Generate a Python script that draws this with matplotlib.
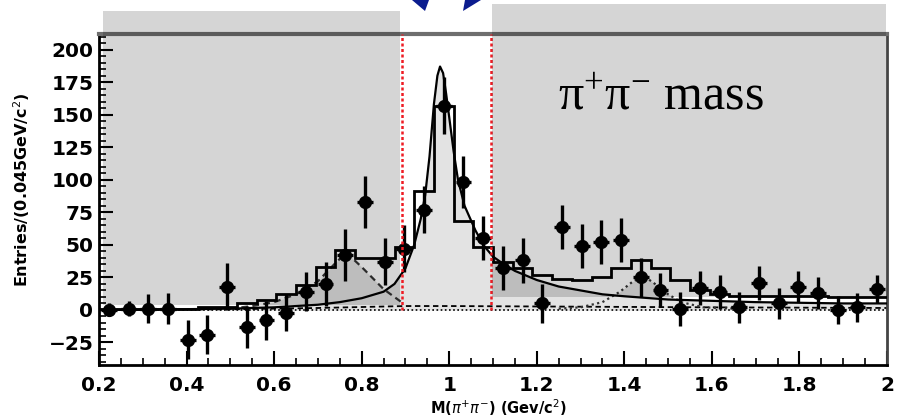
import numpy as np
import matplotlib
matplotlib.use("Agg")
import matplotlib.pyplot as plt
from matplotlib.patches import Rectangle, Polygon
from matplotlib.ticker import MultipleLocator

# ---------------- data ----------------
bin_edges = np.round(np.arange(0.2, 2.0001, 0.045), 4)
bin_centers = (bin_edges[:-1] + bin_edges[1:]) / 2

data_y = [0, 1, 1, 1, -23, -19, 18, -13, -8, -2,
          14, 20, 42, 83, 37, 47, 77, 157, 98, 55,
          32, 38, 5, 64, 49, 52, 54, 25, 15, 1,
          17, 14, 2, 21, 5, 18, 13, 0, 2, 16]
data_err = [5, 6, 11, 12, 15, 15, 18, 16, 15, 14,
            15, 17, 20, 20, 18, 18, 18, 22, 20, 17,
            17, 17, 15, 17, 17, 17, 17, 15, 13, 13,
            13, 13, 12, 13, 12, 12, 12, 11, 11, 11]

hist_y = [1, 1, 1, 1, 1, 2, 2, 5, 8, 12,
          19, 33, 46, 40, 40, 48, 91, 157, 68, 48,
          37, 32, 27, 24, 23, 25, 32, 38, 32, 23,
          15, 12, 11, 11, 11, 11, 11, 10, 10, 10]

fit_x = [0.2, 0.3, 0.4, 0.5, 0.6, 0.7, 0.75, 0.8, 0.85, 0.875, 0.9, 0.92, 0.935,
         0.945, 0.955, 0.965, 0.973, 0.979, 0.986, 0.993, 1.0, 1.01, 1.02, 1.035,
         1.06, 1.08, 1.1, 1.125, 1.15, 1.2, 1.25, 1.3, 1.35, 1.4, 1.5, 1.6, 1.7,
         1.8, 1.9, 2.0]
fit_y = [0, 0.3, 0.6, 1, 2, 4, 6, 9, 14, 20, 32, 50, 70,
         88, 118, 158, 180, 187, 182, 166, 148, 122, 100, 80,
         61, 49, 41, 35, 30, 23, 18, 15, 12, 10.5, 8, 7, 6,
         5.5, 5, 5]

rho_x = [0.5, 0.55, 0.6, 0.65, 0.7, 0.74, 0.765, 0.8, 0.85, 0.895]
rho_y = [1, 3, 6, 12, 22, 36, 44, 33, 16, 5]

f0_x = [1.25, 1.3, 1.35, 1.39, 1.42, 1.445, 1.47, 1.5, 1.53, 1.58, 1.65]
f0_y = [1, 2, 6, 14, 22, 26, 20, 12, 6, 2, 1]

bkg_x = [0.2, 0.5, 0.7, 0.9, 1.0, 1.3, 1.6, 2.0]
bkg_y = [0, 0.5, 1.5, 3, 3, 2.5, 2, 1.5]

window = [0.892, 1.095]

x_ticks = [0.2, 0.4, 0.6, 0.8, 1.0, 1.2, 1.4, 1.6, 1.8, 2.0]
x_tick_labels = ["0.2", "0.4", "0.6", "0.8", "1", "1.2", "1.4", "1.6", "1.8", "2"]
y_ticks = [-25, 0, 25, 50, 75, 100, 125, 150, 175, 200]

# ---------------- figure ----------------
W, H = 897, 420
fig = plt.figure(figsize=(W / 100, H / 100), dpi=100)
ax = fig.add_axes([99 / W, 55 / H, 788 / W, 331 / H])
ax.set_xlim(0.2, 2.0)
ax.set_ylim(-42.3, 212)

fill_c = "#e3e3e3"
ax.fill_between(fit_x, 0, fit_y, color=fill_c, lw=0, zorder=1)
ax.fill_between(rho_x, 0, rho_y, color=fill_c, lw=0, zorder=1)
ax.fill_between(f0_x, 0, f0_y, color=fill_c, lw=0, zorder=1)

ax.axhline(0, color="black", lw=1.2, ls=(0, (1, 1.5)), zorder=2)
ax.plot(bkg_x, bkg_y, color="black", lw=1.3, ls=(0, (3, 2)), zorder=2)
ax.plot(rho_x, rho_y, color="#333333", lw=1.6, ls=(0, (3, 2)), zorder=2)
ax.plot(f0_x, f0_y, color="#333333", lw=1.6, ls=(0, (1, 1.5)), zorder=2)
ax.plot(fit_x, fit_y, color="black", lw=1.6, zorder=3)
ax.stairs(hist_y, bin_edges, baseline=None, color="black", lw=2.0, zorder=4)

ax.errorbar(bin_centers, data_y, yerr=data_err, xerr=0.018, fmt="o",
            color="black", ms=8.5, elinewidth=2.4, capsize=0, zorder=5)

for xv in window:
    ax.plot([xv, xv], [0, 212], color="#ee1c24", lw=1.8, ls=(0, (1.2, 1.0)),
            zorder=6, clip_on=False)

# axes styling
for s in ["left", "bottom"]:
    ax.spines[s].set_linewidth(2.0)
    ax.spines[s].set_color("black")
ax.spines["right"].set_linewidth(2.0)
ax.spines["right"].set_color("#444444")
ax.spines["top"].set_linewidth(3.0)
ax.spines["top"].set_color("#6e6e6e")

ax.set_xticks(x_ticks)
ax.set_xticklabels(x_tick_labels)
ax.set_yticks(y_ticks)
ax.xaxis.set_minor_locator(MultipleLocator(0.05))
ax.yaxis.set_minor_locator(MultipleLocator(5))
ax.tick_params(axis="both", which="major", direction="in", length=10, width=1.5,
               labelsize=14.5, top=False, right=False)
ax.tick_params(axis="both", which="minor", direction="in", length=5, width=1.2,
               top=False, right=False)
ax.tick_params(axis="x", which="major", pad=8)
ax.tick_params(axis="y", which="major", pad=4)
for lab in ax.get_xticklabels() + ax.get_yticklabels():
    lab.set_fontweight("bold")

fig.text(22 / W, 1 - 190 / H, "Entries/(0.045GeV/c$^{2}$)", rotation=90,
         ha="center", va="center", fontsize=11.5, fontweight="bold")
fig.text(498 / W, 1 - 408 / H, r"M($\pi^{+}\pi^{-}$) (Gev/c$^{2}$)",
         ha="center", va="center", fontsize=10.5, fontweight="bold")

# gray overlay panels
fig.add_artist(Rectangle((103 / W, 1 - 305 / H), 297 / W, 294 / H,
                         transform=fig.transFigure, facecolor="black",
                         alpha=0.165, lw=0, zorder=10))
fig.add_artist(Rectangle((492 / W, 1 - 297 / H), 394 / W, 293 / H,
                         transform=fig.transFigure, facecolor="black",
                         alpha=0.165, lw=0, zorder=10))

# navy arrow heads at top
fig.add_artist(Polygon([(412 / W, 1.0), (429 / W, 1.0), (425 / W, 1 - 11 / H)],
                       closed=True, transform=fig.transFigure,
                       facecolor="#0b1c8f", edgecolor="none", zorder=11))
fig.add_artist(Polygon([(465 / W, 1.0), (481 / W, 1.0), (463 / W, 1 - 11 / H)],
                       closed=True, transform=fig.transFigure,
                       facecolor="#0b1c8f", edgecolor="none", zorder=11))

fig.text(558 / W, 1 - 110 / H, r"$\mathregular{\pi^{+}\pi^{-}}$ mass",
         fontsize=36, family="Liberation Serif", ha="left", va="baseline",
         zorder=12)

fig.savefig("out.png", dpi=100)
